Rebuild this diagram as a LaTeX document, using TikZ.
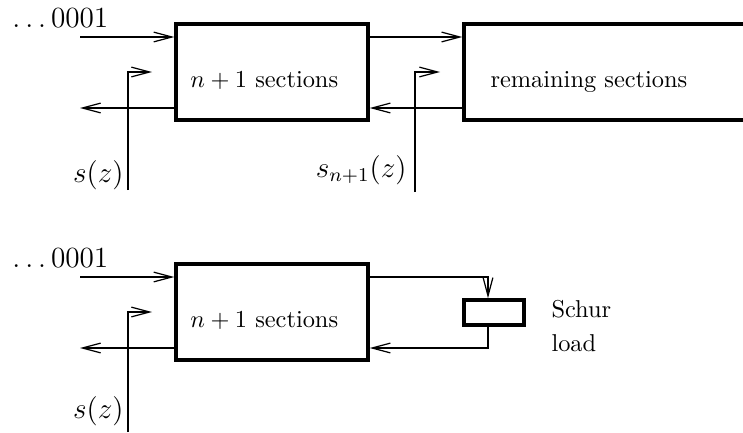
\documentclass[tikz,border=0pt]{standalone}
\usetikzlibrary{arrows.meta}
\begin{document}
\begin{tikzpicture}[x=0.41pt,y=-0.41pt,
  blk/.style={draw,line width=1.4pt,inner sep=0pt},
  arr/.style={line width=0.5pt,-{Straight Barb[length=7.5pt,width=4pt]}},
  txt/.style={inner sep=0pt}]
\useasboundingbox (0,0) rectangle (743,432);
% ---- top diagram ----
\node[blk,minimum width=78.7pt,minimum height=39.4pt] (b1) at (272,72) {};
\node[blk,minimum width=117.3pt,minimum height=39.4pt] (b2) at (607,72) {};
\node[txt,anchor=base west] (t1) at (190,87) {$n+1$ sections};
\node[txt,anchor=base west] (t2) at (490,87) {remaining sections};
\node[txt,anchor=base west] (i1) at (12,27) {\large$\ldots0001$};
\node[txt,anchor=base east] (s1) at (124,182) {\large$s(z)$};
\node[txt,anchor=base east] (s2) at (407,177) {\large$s_{n+1}(z)$};
\coordinate (in1) at (80,37);
\coordinate (out1) at (80,108);
\coordinate (sa1) at (128,190);
\coordinate (sb1) at (152,72);
\coordinate (sa2) at (415,192);
\coordinate (sb2) at (440,72);
\draw[arr] (in1) -- (b1.west |- in1);
\draw[arr] (b1.west |- out1) -- (out1);
\draw[arr] (sa1) |- (sb1);
\draw[arr] (b1.east |- in1) -- (b2.west |- in1);
\draw[arr] (b2.west |- out1) -- (b1.east |- out1);
\draw[arr] (sa2) |- (sb2);
% ---- bottom diagram ----
\node[blk,minimum width=78.7pt,minimum height=39.4pt] (b3) at (272,312) {};
\node[blk,minimum width=24.6pt,minimum height=10.25pt] (sc) at (494,312.5) {};
\node[txt,anchor=base west] (t3) at (190,327) {$n+1$ sections};
\node[txt,anchor=base west] (t4) at (551,317) {Schur};
\node[txt,anchor=base west] (t5) at (551,351) {load};
\node[txt,anchor=base west] (i2) at (12,267) {\large$\ldots0001$};
\node[txt,anchor=base east] (s3) at (124,418) {\large$s(z)$};
\coordinate (in2) at (80,277);
\coordinate (out2) at (80,348);
\coordinate (sa3) at (128,432);
\coordinate (sb3) at (152,312);
\coordinate (scx) at (488,0);
\draw[arr] (in2) -- (b3.west |- in2);
\draw[arr] (b3.west |- out2) -- (out2);
\draw[arr] (sa3) |- (sb3);
\draw[arr] (b3.east |- in2) -| (scx |- sc.north);
\draw[arr] (scx |- sc.south) |- (b3.east |- out2);
\end{tikzpicture}
\end{document}
